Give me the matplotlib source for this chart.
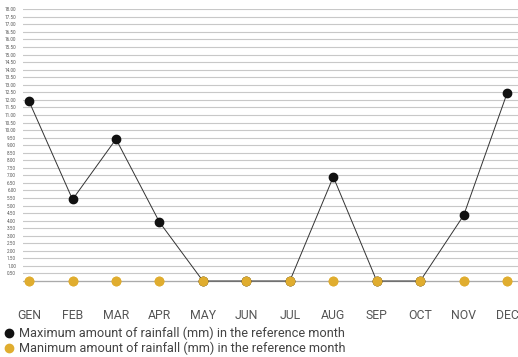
import matplotlib.pyplot as plt
import numpy as np
from matplotlib.lines import Line2D

plt.rcParams['font.family'] = ['Roboto', 'DejaVu Sans']

# data
months = ["GEN", "FEB", "MAR", "APR", "MAY", "JUN", "JUL", "AUG", "SEP", "OCT", "NOV", "DEC"]
max_rain = [11.9, 5.4, 9.4, 3.9, 0, 0, 0, 6.9, 0, 0, 4.35, 12.45]
min_rain = [0, 0, 0, 0, 0, 0, 0, 0, 0, 0, 0, 0]
y_ticks = np.arange(0, 18.01, 0.5)

black = "#111111"
yellow = "#e0ad2f"

figure = plt.figure(figsize=(5.18, 3.57), dpi=100)
axes = figure.add_axes([23 / 518, 74.5 / 357, 1 - 23 / 518, 273.2 / 357])

x = np.arange(len(months))
axes.plot(x, max_rain, color="#333333", linewidth=0.7, marker="o", markersize=6,
          markerfacecolor=black, markeredgecolor=black, zorder=3, clip_on=False)
axes.plot(x, min_rain, color="#aaaaaa", linewidth=0.8, marker="o", markersize=6,
          markerfacecolor=yellow, markeredgecolor=yellow, zorder=2, clip_on=False)
axes.plot(x, min_rain, linestyle="none", marker="o", markersize=6,
          markerfacecolor=yellow, markeredgecolor=yellow, zorder=4, clip_on=False)

# grid and ticks
axes.set_xlim(-0.14, 11.25)
axes.set_ylim(-0.1, 18.0)
axes.set_yticks(y_ticks)
axes.set_yticklabels(["" if v == 0 else f"{v:.2f}" for v in y_ticks], fontsize=3.3, color="#555555")
axes.set_xticks(x)
axes.set_xticklabels(months, fontsize=8.8, color="#555555")
axes.tick_params(axis="y", length=0, pad=5)
axes.tick_params(axis="x", length=0, pad=19)
axes.grid(axis="y", color="#c8c8c8", linewidth=0.8)
axes.axhline(0, color="#b0b0b0", linewidth=0.8, zorder=1)
axes.set_axisbelow(True)
for spine in axes.spines.values():
    spine.set_visible(False)

# legend
handles = [
    Line2D([], [], marker="o", linestyle="none", markersize=6, color=black),
    Line2D([], [], marker="o", linestyle="none", markersize=6, color=yellow),
]
labels = [
    "Maximum amount of rainfall (mm) in the reference month",
    "Manimum amount of rainfall (mm) in the reference month",
]
figure.legend(handles, labels, loc="lower left", bbox_to_anchor=(-0.012, -0.016), frameon=False,
              fontsize=9.2, labelcolor="#444444", handletextpad=0.15, labelspacing=0.1,
              handlelength=1.2, borderaxespad=0.2)

figure.savefig("out.png")
